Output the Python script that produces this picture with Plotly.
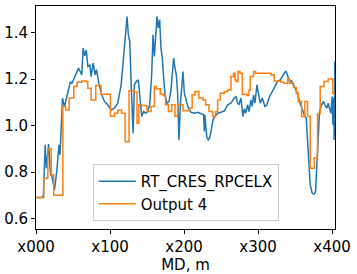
import plotly.graph_objects as go

# Blue series: RT_CRES_RPCELX
blue_x = [0, 8, 10, 12.4, 14, 17, 19.6, 21.5, 25, 28, 31, 32.5, 35.8, 38.5, 43, 46.6, 48.4, 54.7, 57.4, 61.9,
          63.7, 66, 68, 70, 72.7, 74.5, 77.2, 79.9, 81.7, 85.3, 88.9, 92.5, 97, 101.5, 106, 110.5, 115, 117.6,
          120.4, 123, 124.8, 126.7, 128.5, 131.2, 133, 135.7, 138.3, 141, 142.8, 145.5, 148.2, 150.9, 153.6,
          156.3, 158.1, 159.9, 161.7, 163.5, 165.3, 167.1, 168.9, 170.7, 172.5, 174.3, 177, 179.7, 182.4,
          184.2, 186, 187.8, 189.6, 191.4, 193.2, 195, 196.8, 198.6, 200.4, 203, 205.8, 209.4, 213.9, 218.4,
          222.9, 226.5, 227.4, 228.3, 229.2, 231, 232.8, 234.6, 236.4, 239.1, 241.8, 245.4, 249.9, 254.4,
          258.9, 263.4, 267.9, 270.6, 271.5, 274.2, 276.9, 279.6, 281.4, 283.2, 285.9, 287.7, 290.4, 292.2,
          294, 295.8, 298.5, 300.3, 303, 305.7, 309.3, 312, 315.6, 319.2, 322.8, 326.4, 330, 333.6, 336.3,
          338, 339.9, 342.6, 345.3, 348, 350.7, 353.4, 356, 358.8, 361.5, 363.3, 365.1, 366.9, 368.7, 370.5,
          373.2, 375.9, 377.7, 379.5, 381.3, 383.1, 385.8, 388.5, 390.3, 393, 394.8, 396.6, 398.4, 400.2,
          401.1, 402, 402.9, 403.8, 404.7]
blue_y = [0.69, 0.69, 0.70, 0.917, 0.816, 0.92, 0.79, 0.78, 0.723, 0.80, 0.917, 0.874, 1.118, 1.08, 1.143,
          1.189, 1.18, 1.225, 1.247, 1.218, 1.333, 1.30, 1.325, 1.254, 1.26, 1.21, 1.268, 1.218, 1.24, 1.175,
          1.132, 1.103, 1.089, 1.067, 1.075, 1.096, 1.175, 1.268, 1.361, 1.469, 1.39, 1.361, 1.19, 0.967,
          1.175, 1.19, 1.196, 1.089, 1.039, 1.06, 1.053, 1.06, 1.089, 1.218, 1.39, 1.297, 1.376, 1.469, 1.419,
          1.455, 1.333, 1.29, 1.204, 1.132, 1.096, 1.103, 1.153, 1.247, 1.29, 1.247, 1.218, 1.139, 0.938,
          1.089, 1.16, 1.232, 1.140, 1.103, 1.075, 1.057, 1.053, 1.057, 1.049, 1.046, 0.974, 1.046, 1.003,
          0.946, 0.938, 0.948, 0.974, 1.024, 1.039, 1.053, 1.057, 1.063, 1.089, 1.096, 1.118, 1.125, 1.103,
          1.089, 1.118, 1.039, 1.072, 1.053, 1.089, 1.06, 1.11, 1.082, 1.132, 1.096, 1.175, 1.139, 1.096,
          1.118, 1.082, 1.089, 1.125, 1.146, 1.168, 1.189, 1.196, 1.215, 1.23, 1.232, 1.215, 1.189, 1.192,
          1.175, 1.16, 1.139, 1.103, 1.075, 1.053, 1.039, 1.032, 0.946, 0.816, 0.745, 0.709, 0.705, 0.716,
          0.831, 0.974, 1.06, 1.089, 1.103, 1.089, 1.075, 1.096, 1.075, 1.053, 1.125, 1.003, 1.118, 0.938,
          1.275, 1.146]

# Orange series: Output 4 (step values)
orange_x = [0, 10.6, 16, 20.5, 24, 36.3, 40, 44.8, 51, 55.6, 61.9, 68, 70, 74.5, 80.7, 88, 100.5, 106, 110.5,
            115.5, 120.4, 125.7, 133, 136.5, 139, 143, 150, 155.4, 160, 162.6, 168, 171.6, 175, 178.8, 183.3,
            187.8, 191.4, 196, 198.6, 207.6, 211, 214.8, 220, 225.6, 229.2, 233.7, 239, 242.7, 245.4, 249,
            254.4, 258.9, 263.4, 267, 269, 270.6, 273, 275.7, 278.7, 285, 287.7, 289.5, 294, 296.7, 317.4, 322,
            331, 335, 340, 342.6, 348, 351.6, 354.3, 358.8, 363.3, 366.9, 370.5, 375.9, 380.4, 384, 389, 394.8,
            401, 404.7]
orange_y = [0.69, 0.773, 0.90, 0.788, 0.70, 1.082, 1.067, 1.118, 1.168, 1.186, 1.192, 1.189, 1.16, 1.11, 1.172,
            1.135, 1.04, 1.053, 1.067, 1.053, 0.93, 1.149, 1.143, 1.01, 1.089, 1.086, 1.06, 1.082, 1.168, 1.158,
            1.135, 1.129, 1.089, 1.06, 1.089, 1.04, 1.092, 1.089, 1.063, 1.075, 1.132, 1.146, 1.118, 1.11,
            1.089, 1.06, 1.039, 1.06, 1.11, 1.139, 1.146, 1.153, 1.211, 1.225, 1.196, 1.189, 1.232, 1.225,
            1.135, 1.129, 1.153, 1.211, 1.232, 1.225, 1.218, 1.192, 1.186, 1.182, 1.2, 1.182, 1.163, 1.139,
            1.103, 1.039, 1.103, 1.039, 0.816, 0.86, 1.05, 1.168, 1.189, 1.2, 1.139, 1.139]

x_tickvals = [0, 100, 200, 300, 400]
x_ticktext = ["x000", "x100", "x200", "x300", "x400"]

FONT = "DejaVu Sans"

fig = go.Figure()
fig.add_trace(go.Scatter(x=blue_x, y=blue_y, mode="lines", name="RT_CRES_RPCELX",
                         line=dict(color="#1f77b4", width=1.5)))
fig.add_trace(go.Scatter(x=orange_x, y=orange_y, mode="lines", name="Output 4",
                         line=dict(color="#ff7f0e", width=1.5, shape="hv")))

axis_common = dict(showline=True, linecolor="black", linewidth=1, mirror=True, ticks="outside",
                   ticklen=4, tickcolor="black", tickwidth=1, showgrid=False, zeroline=False,
                   automargin=False,
                   tickfont=dict(family=FONT, size=15, color="black"))

fig.update_layout(
    width=357, height=274,
    margin=dict(l=36, r=22, t=6, b=45, autoexpand=False),
    plot_bgcolor="white", paper_bgcolor="white",
    font=dict(family=FONT, size=15, color="black"),
    xaxis=dict(range=[0, 404], tickvals=x_tickvals, ticktext=x_ticktext,
               title=dict(text="MD, m", font=dict(family=FONT, size=15), standoff=0), **axis_common),
    yaxis=dict(range=[0.555, 1.514], dtick=0.2, tick0=0.6, tickformat=".1f", **axis_common),
    legend=dict(x=0.19, y=0.036, xanchor="left", yanchor="bottom",
                bgcolor="rgba(255,255,255,0.8)", bordercolor="#cccccc", borderwidth=1,
                font=dict(family=FONT, size=15, color="black"), itemwidth=37, tracegroupgap=0),
    showlegend=True,
)

fig.write_html("out.html", config={"displayModeBar": False},
               post_script="document.body.style.margin='0px';document.body.style.overflow='hidden';")
